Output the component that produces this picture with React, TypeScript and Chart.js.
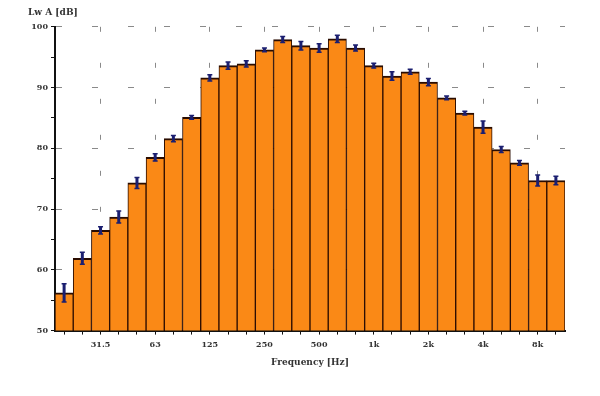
import React, { useEffect, useRef } from "react";
import { Chart, registerables } from "chart.js";

Chart.register(...registerables);

const bands = ["20", "25", "31.5", "40", "50", "63", "80", "100", "125", "160", "200", "250", "315", "400", "500", "630", "800", "1k", "1.25k", "1.6k", "2k", "2.5k", "3.15k", "4k", "5k", "6.3k", "8k", "10k"];
const shownTicks = ["31.5", "63", "125", "250", "500", "1k", "2k", "4k", "8k"];
const levels = [56.2, 61.9, 66.5, 68.7, 74.3, 78.5, 81.6, 85.1, 91.6, 93.6, 93.9, 96.2, 97.9, 96.9, 96.5, 98.0, 96.5, 93.6, 91.9, 92.6, 90.9, 88.3, 85.8, 83.5, 79.8, 77.6, 74.7, 74.7];
const errors = [1.5, 1.0, 0.6, 1.0, 0.9, 0.6, 0.5, 0.3, 0.5, 0.6, 0.5, 0.3, 0.5, 0.7, 0.7, 0.6, 0.5, 0.4, 0.7, 0.4, 0.6, 0.3, 0.3, 1.0, 0.5, 0.4, 0.9, 0.7];
const yTitle = "Lw A [dB]";
const xTitle = "Frequency [Hz]";

const FONT = { family: "'DejaVu Serif', serif", size: 8, weight: "bold" as const };
const TITLE_FONT = { family: "'DejaVu Serif', serif", size: 9, weight: "bold" as const };

const errorBars = {
  id: "errorBars",
  afterDatasetsDraw(chart: any) {
    const meta = chart.getDatasetMeta(0);
    const y = chart.scales.y;
    const ctx = chart.ctx;
    ctx.save();
    ctx.strokeStyle = "#1b1f70";
    meta.data.forEach((el: any, i: number) => {
      const x = el.x;
      const t = y.getPixelForValue(levels[i] + errors[i]);
      const b = y.getPixelForValue(levels[i] - errors[i]);
      ctx.lineWidth = 3;
      ctx.beginPath();
      ctx.moveTo(x, t);
      ctx.lineTo(x, b);
      ctx.stroke();
      ctx.lineWidth = 1.5;
      ctx.beginPath();
      ctx.moveTo(x - 2.5, t);
      ctx.lineTo(x + 2.5, t);
      ctx.moveTo(x - 2.5, b);
      ctx.lineTo(x + 2.5, b);
      ctx.stroke();
    });
    ctx.restore();
  },
};

export default function App() {
  const ref = useRef<HTMLCanvasElement>(null);
  useEffect(() => {
    document.body.style.margin = "0";
    const chart = new Chart(ref.current!, {
      type: "bar",
      data: {
        labels: bands,
        datasets: [
          {
            data: levels,
            backgroundColor: "#fa8916",
            borderColor: "#2a0c00",
            borderWidth: { top: 2, left: 1, right: 1, bottom: 0 } as any,
            borderSkipped: false,
            categoryPercentage: 1,
            barPercentage: 1,
          },
        ],
      },
      options: {
        animation: false,
        responsive: false,
        layout: { padding: { left: 28, right: 35, top: 5, bottom: 26 } },
        plugins: {
          legend: { display: false },
          tooltip: { enabled: false },
          title: {
            display: true,
            text: yTitle,
            align: "start",
            color: "#333",
            font: TITLE_FONT,
            padding: { top: 2, bottom: 9 },
          },
        },
        scales: {
          x: {
            offset: true,
            grid: {
              offset: false,
              color: (c: any) => (c.tick && shownTicks.includes(bands[c.tick.value]) ? "#8a8a8a" : "rgba(0,0,0,0)"),
              tickColor: "#111",
              tickLength: 4,
              lineWidth: 1,
            },
            border: { display: true, color: "#111", width: 2, dash: [5, 31] },
            ticks: {
              autoSkip: false,
              maxRotation: 0,
              padding: 6,
              color: "#333",
              font: FONT,
              callback: (v: any) => (shownTicks.includes(bands[v]) ? bands[v] : ""),
            },
            title: {
              display: true,
              text: xTitle,
              color: "#333",
              font: TITLE_FONT,
              padding: { top: 1, bottom: 2 },
            },
          },
          y: {
            min: 50,
            max: 100,
            afterFit: (s: any) => {
              s.width = 27;
            },
            grid: {
              color: (c: any) => (c.tick && c.tick.value % 10 === 0 && c.tick.value > 50 ? "#8a8a8a" : "rgba(0,0,0,0)"),
              tickColor: "#111",
              tickLength: 4,
              lineWidth: 1,
            },
            border: { display: true, color: "#111", width: 2, dash: [6, 30] },
            ticks: {
              stepSize: 5,
              padding: 3,
              color: "#333",
              font: FONT,
              callback: (v: any) => (v % 10 === 0 ? String(v) : ""),
            },
          },
        },
      },
      plugins: [errorBars],
    });
    return () => chart.destroy();
  }, []);
  return (
    <div style={{ width: 600, height: 396 }}>
      <canvas ref={ref} width={600} height={396} />
    </div>
  );
}
